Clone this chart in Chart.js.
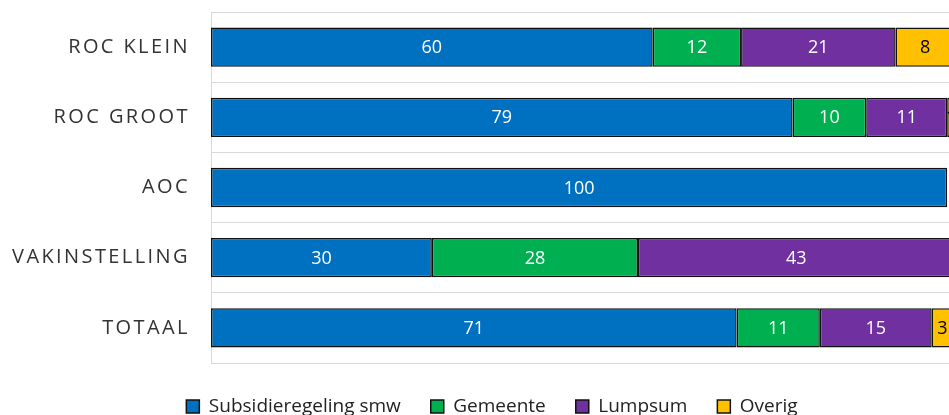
<!DOCTYPE html>
<html>
<head>
<meta charset="utf-8">
<script src="https://cdn.jsdelivr.net/npm/chart.js@4.4.1/dist/chart.umd.min.js"></script>
<style>
    html, body { margin: 0; padding: 0; background: #fff; overflow: hidden; }
    #wrap { width: 984px; height: 426px; }
</style>
</head>
<body>
<div id="wrap"><canvas id="chart" width="984" height="426"></canvas></div>
<script>
// Data
const categories = ['ROC KLEIN', 'ROC GROOT', 'AOC', 'VAKINSTELLING', 'TOTAAL'];
const subsidieregeling = [60, 79, 100, 30, 71.4];
const gemeente = [12, 10, 0, 28, 11.3];
const lumpsum = [21, 11, 0, 43, 15.2];
const overig = [8, 1, 0, 0, 2.9];

const seriesNames = ['Subsidieregeling smw', 'Gemeente', 'Lumpsum', 'Overig'];
const seriesColors = ['#0070C0', '#00B050', '#7030A0', '#FFC000'];
const labelColors = ['#ffffff', '#ffffff', '#ffffff', '#000000'];

// Category labels with letter spacing (drawn next to the y axis)
const categoryLabels = {
    id: 'categoryLabels',
    afterDraw(chart) {
        const ctx = chart.ctx;
        const yScale = chart.scales.y;
        const spacing = 2.4;
        ctx.save();
        ctx.font = '20px "Open Sans"';
        ctx.fillStyle = '#333333';
        ctx.textAlign = 'right';
        ctx.textBaseline = 'middle';
        ctx.letterSpacing = spacing + 'px';
        categories.forEach((cat, i) => {
            ctx.fillText(cat, 187.5 + spacing, yScale.getPixelForTick(i));
        });
        ctx.restore();
    }
};

// Value labels centred in each segment
const valueLabels = {
    id: 'valueLabels',
    afterDatasetsDraw(chart) {
        const ctx = chart.ctx;
        ctx.save();
        ctx.font = '18px "Open Sans"';
        ctx.textAlign = 'center';
        ctx.textBaseline = 'middle';
        chart.data.datasets.forEach((ds, d) => {
            const meta = chart.getDatasetMeta(d);
            ctx.fillStyle = labelColors[d];
            meta.data.forEach((bar, i) => {
                const v = ds.data[i];
                if (!v) return;
                ctx.fillText(String(Math.round(v)), (bar.x + bar.base) / 2, bar.y + 1);
            });
        });
        ctx.restore();
    }
};

const datasets = [subsidieregeling, gemeente, lumpsum, overig].map((values, i) => ({
    label: seriesNames[i],
    data: values,
    backgroundColor: seriesColors[i],
    borderColor: '#111111',
    borderWidth: 1.5,
    borderSkipped: false,
    categoryPercentage: 0.7,
    barPercentage: 0.8
}));

new Chart(document.getElementById('chart'), {
    type: 'bar',
    data: { labels: categories, datasets: datasets },
    options: {
        indexAxis: 'y',
        responsive: false,
        animation: false,
        devicePixelRatio: 1,
        layout: { padding: { top: 12, right: 0, left: 0, bottom: 0 } },
        plugins: {
            legend: {
                position: 'bottom',
                labels: {
                    boxWidth: 13,
                    boxHeight: 13,
                    padding: 30,
                    color: '#222222',
                    font: { family: '"Open Sans"', size: 19 }
                }
            },
            tooltip: { enabled: false }
        },
        scales: {
            x: {
                stacked: true,
                min: 0,
                max: 105,
                ticks: { display: false },
                grid: { display: false },
                border: { display: false },
                afterFit(scale) { scale.height = 4; }
            },
            y: {
                stacked: true,
                ticks: { display: false },
                grid: { color: '#d9d9d9', lineWidth: 1, drawTicks: false },
                border: { color: '#d9d9d9', width: 1 },
                afterFit(scale) { scale.width = 211; }
            }
        }
    },
    plugins: [categoryLabels, valueLabels]
});
</script>
</body>
</html>
